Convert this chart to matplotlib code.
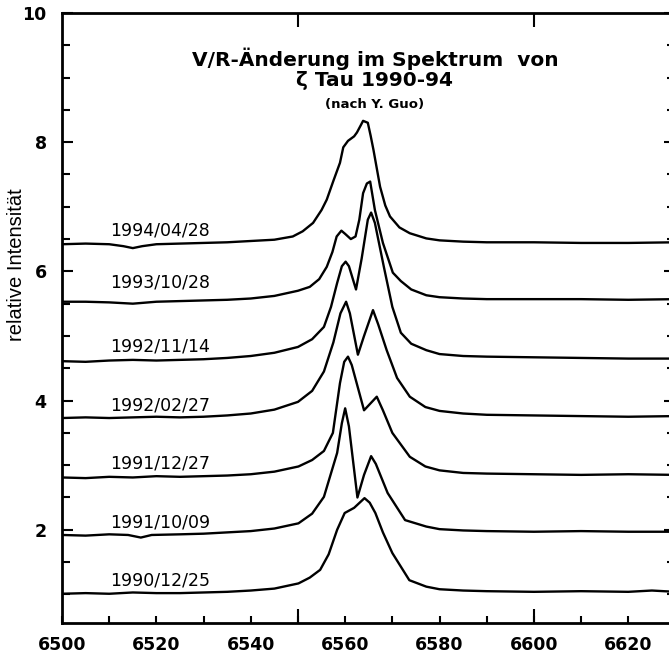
import matplotlib.pyplot as plt
import numpy as np

# wavelength (Angstrom) / relative intensity
wl_1994 = [6500, 6505, 6510, 6513, 6515, 6517, 6520, 6525, 6530, 6535, 6540, 6545, 6548.9, 6551, 6553.2,
           6555, 6556.1, 6557.5, 6558.9, 6559.6, 6560.6, 6561.9, 6562.5, 6563.3, 6563.8, 6564.8, 6565.4,
           6566, 6567.4, 6568.5, 6569.5, 6571.5, 6573.7, 6577.2, 6580, 6585, 6590, 6600, 6610, 6620, 6630]
in_1994 = [6.42, 6.43, 6.42, 6.39, 6.36, 6.39, 6.42, 6.43, 6.44, 6.45, 6.47, 6.49, 6.54, 6.62, 6.75,
           6.95, 7.11, 7.40, 7.68, 7.92, 8.02, 8.09, 8.15, 8.26, 8.33, 8.30, 8.10,
           7.88, 7.31, 7.02, 6.85, 6.68, 6.59, 6.51, 6.48, 6.46, 6.45, 6.45, 6.44, 6.44, 6.45]

wl_1993 = [6500, 6505, 6510, 6515, 6520, 6525, 6530, 6535, 6540, 6545, 6550, 6552.5, 6554.5, 6556.1,
           6557.3, 6558.2, 6559.2, 6560, 6561.2, 6562.2, 6563, 6563.8, 6564.6, 6565.3, 6566.3, 6568,
           6570.1, 6571.8, 6574, 6577.2, 6580, 6585, 6590, 6600, 6610, 6620, 6630]
in_1993 = [5.53, 5.53, 5.52, 5.50, 5.53, 5.54, 5.55, 5.56, 5.58, 5.62, 5.70, 5.76, 5.88, 6.07,
           6.30, 6.54, 6.63, 6.58, 6.50, 6.54, 6.80, 7.21, 7.36, 7.39, 6.95, 6.44,
           5.98, 5.85, 5.72, 5.63, 5.60, 5.58, 5.57, 5.57, 5.57, 5.56, 5.57]

wl_1992b = [6500, 6505, 6510, 6515, 6520, 6525, 6530, 6535, 6540, 6545, 6550, 6553, 6555.5, 6557,
            6558.3, 6559.3, 6560.1, 6560.8, 6562.3, 6563.5, 6564.8, 6565.5, 6566.3, 6568.2, 6570,
            6571.8, 6574, 6577.2, 6580, 6585, 6590, 6600, 6610, 6620, 6630]
in_1992b = [4.61, 4.60, 4.62, 4.63, 4.62, 4.63, 4.64, 4.66, 4.69, 4.74, 4.83, 4.95, 5.14, 5.45,
            5.82, 6.08, 6.15, 6.08, 5.72, 6.20, 6.80, 6.91, 6.75, 6.07, 5.45,
            5.05, 4.88, 4.78, 4.72, 4.69, 4.68, 4.67, 4.66, 4.65, 4.65]

wl_1992a = [6500, 6505, 6510, 6515, 6520, 6525, 6530, 6535, 6540, 6545, 6550, 6553, 6555.5, 6557.5,
            6559, 6560.2, 6561, 6562.7, 6564, 6565.9, 6567, 6568.8, 6571, 6573.7, 6577, 6580, 6585,
            6590, 6600, 6610, 6620, 6630]
in_1992a = [3.73, 3.74, 3.73, 3.74, 3.75, 3.74, 3.75, 3.77, 3.80, 3.86, 3.98, 4.15, 4.45, 4.90,
            5.35, 5.53, 5.35, 4.71, 5.00, 5.40, 5.18, 4.78, 4.35, 4.06, 3.90, 3.84, 3.80,
            3.78, 3.77, 3.76, 3.75, 3.76]

wl_1991b = [6500, 6505, 6510, 6515, 6520, 6525, 6530, 6535, 6540, 6545, 6550.1, 6553, 6555.5, 6557.4,
            6558.9, 6559.8, 6560.6, 6561.4, 6564, 6566.7, 6568, 6570, 6573.7, 6577, 6580, 6585, 6590,
            6600, 6610, 6620, 6630]
in_1991b = [2.81, 2.80, 2.82, 2.81, 2.83, 2.82, 2.83, 2.84, 2.86, 2.90, 2.98, 3.08, 3.22, 3.50,
            4.27, 4.60, 4.68, 4.55, 3.85, 4.06, 3.85, 3.50, 3.13, 2.98, 2.92, 2.88, 2.87,
            2.86, 2.85, 2.86, 2.85]

wl_1991a = [6500, 6505, 6510, 6514, 6516.7, 6519, 6525, 6530, 6535, 6540, 6545, 6550.1, 6553, 6555.5,
            6558.3, 6559.3, 6560, 6560.8, 6562.6, 6564, 6565.5, 6566.5, 6569, 6572.7, 6577.2, 6580,
            6585, 6590, 6600, 6610, 6620, 6630]
in_1991a = [1.92, 1.91, 1.93, 1.92, 1.88, 1.92, 1.93, 1.94, 1.96, 1.98, 2.02, 2.10, 2.25, 2.51,
            3.19, 3.65, 3.88, 3.60, 2.50, 2.85, 3.14, 3.02, 2.57, 2.15, 2.05, 2.01,
            1.99, 1.98, 1.97, 1.98, 1.97, 1.97]

wl_1990 = [6500, 6505, 6510, 6515, 6520, 6525, 6530, 6535, 6540, 6545, 6550.1, 6552.5, 6554.7, 6556.5,
           6558.3, 6559.9, 6561.9, 6564.1, 6565.2, 6566.4, 6568, 6570, 6573.6, 6577.2, 6580, 6585,
           6590, 6600, 6610, 6620, 6625, 6630]
in_1990 = [1.01, 1.02, 1.01, 1.03, 1.02, 1.02, 1.03, 1.04, 1.06, 1.09, 1.17, 1.26, 1.38, 1.62,
           2.00, 2.26, 2.34, 2.49, 2.42, 2.26, 1.96, 1.64, 1.22, 1.12, 1.08, 1.06,
           1.05, 1.04, 1.05, 1.04, 1.06, 1.04]

dates = ["1994/04/28", "1993/10/28", "1992/11/14", "1992/02/27",
         "1991/12/27", "1991/10/09", "1990/12/25"]
label_y = [6.64, 5.82, 4.84, 3.92, 3.02, 2.12, 1.21]
label_x = 6510.2

spectra = [(wl_1994, in_1994), (wl_1993, in_1993), (wl_1992b, in_1992b), (wl_1992a, in_1992a),
           (wl_1991b, in_1991b), (wl_1991a, in_1991a), (wl_1990, in_1990)]

fig = plt.figure(figsize=(6.69, 6.53), dpi=100)
ax = fig.add_axes([0.0927, 0.0452, 0.917, 0.935])

for wl, inten in spectra:
    ax.plot(wl, inten, c='k', lw=1.7, solid_joinstyle='round')

for d, yy in zip(dates, label_y):
    ax.text(label_x, yy, d, fontsize=12.5, va='center', ha='left')

ax.text(6566.3, 9.29, "V/R-Änderung im Spektrum  von", fontsize=14.5, fontweight='bold',
        ha='center', va='center')
ax.text(6566.3, 8.96, "ζ Tau 1990-94", fontsize=14.5, fontweight='bold', ha='center', va='center')
ax.text(6566.3, 8.58, "(nach Y. Guo)", fontsize=9.5, fontweight='bold', ha='center', va='center')

ax.set_xlim(6500, 6630)
ax.set_ylim(0.55, 10)
ax.set_xticks(np.arange(6500, 6621, 20))
ax.set_xticks(np.arange(6500, 6631, 10), minor=True)
ax.set_yticks([2, 4, 6, 8, 10])
ax.set_yticks(np.arange(1, 10.01, 0.5), minor=True)
ax.tick_params(which='both', direction='in', top=True, right=True, width=1.5)
ax.tick_params(axis='x', which='both', length=5, pad=9)
ax.tick_params(axis='y', which='major', length=8, pad=11)
ax.tick_params(axis='y', which='minor', length=6)
for lab in ax.get_xticklabels() + ax.get_yticklabels():
    lab.set_fontsize(12.5)
    lab.set_fontweight('bold')
for s in ax.spines.values():
    s.set_linewidth(2)

ax.set_ylabel("relative Intensität", fontsize=14.5, family='Liberation Sans')
ax.yaxis.set_label_coords(-0.0587, 0.587)

# longer ticks at 6550 / 6600
ax2 = ax.twiny()
ax2.set_xlim(ax.get_xlim())
ax2.set_xticks([6550, 6600])
ax2.tick_params(which='both', direction='in', length=10, width=1.5, top=True, bottom=True,
                labeltop=False, labelbottom=False)
ax2.xaxis.set_minor_locator(plt.NullLocator())
for s in ax2.spines.values():
    s.set_visible(False)

plt.savefig("out.png", dpi=100)
